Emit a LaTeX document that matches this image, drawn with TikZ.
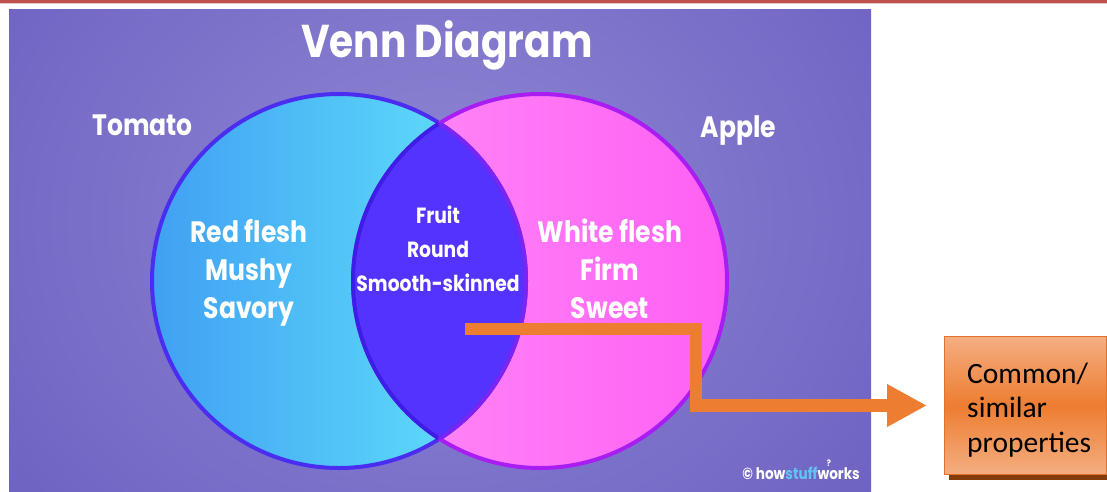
\documentclass[tikz,border=0pt]{standalone}
\usepackage{fontspec}
\setmainfont{Poppins}
\newfontfamily\vennfont{Poppins}[FakeStretch=0.85]
\newfontfamily\calloutfont{Carlito}
\usetikzlibrary{arrows.meta,shadows}

% palette
\definecolor{rulered}{HTML}{C0504D}
\definecolor{ruleshade}{HTML}{E6CACA}
\definecolor{glowin}{HTML}{8F87D4}
\definecolor{glowout}{HTML}{4D3DB0}
\definecolor{tomatoA}{HTML}{40A0F3}
\definecolor{tomatoB}{HTML}{64E8FB}
\definecolor{appleA}{HTML}{FF8CF8}
\definecolor{appleB}{HTML}{FF5FF3}
\definecolor{lensblue}{HTML}{5533FE}
\definecolor{tomatoedge}{HTML}{4A2DF0}
\definecolor{appleedge}{HTML}{A81EF2}
\definecolor{lensedge}{HTML}{3B1FE6}
\definecolor{lensedgeR}{HTML}{7A25F2}
\definecolor{flow}{HTML}{ED7D31}
\definecolor{boxlight}{HTML}{F4AE82}
\definecolor{boxedge}{HTML}{E2722A}
\definecolor{boxshadow}{HTML}{843C0C}
\definecolor{stuffblue}{HTML}{62C4F2}

\pgfdeclareradialshading{panelglow}{\pgfpoint{0bp}{0bp}}{color(0bp)=(glowin); color(36bp)=(glowout); color(50bp)=(glowout)}

\begin{document}
\begin{tikzpicture}[x=1pt,y=-1pt,
  venntitle/.style={text=white,inner sep=0,font=\vennfont\bfseries\fontsize{46}{52}\selectfont},
  setlabel/.style={text=white,inner sep=0,font=\vennfont\bfseries\fontsize{29.5}{34}\selectfont},
  setitems/.style={text=white,inner sep=0,align=center,font=\vennfont\bfseries\fontsize{29.5}{38}\selectfont},
  shareditems/.style={text=white,inner sep=0,align=center,font=\vennfont\bfseries\fontsize{22}{34}\selectfont},
  credit/.style={text=white,inner sep=0,font=\vennfont\bfseries\fontsize{16}{18}\selectfont},
  flowline/.style={draw=flow,line width=12.5pt,line join=miter,
    -{Triangle[length=40pt,width=40pt]},shorten >=17pt},
  callout/.style={draw=boxedge,line width=1pt,top color=boxlight,bottom color=boxlight,
    middle color=flow,inner sep=0,
    drop shadow={shadow xshift=4pt,shadow yshift=-5pt,fill=boxshadow,opacity=1}},
  callouttext/.style={text=black,inner sep=0,align=left,
    font=\calloutfont\fontsize{29.5}{34.5}\selectfont}]

\useasboundingbox (0,0) rectangle (1107,491);

% header rule
\fill[rulered] (0,0) rectangle (1107,3.3);
\fill[ruleshade] (0,3.3) rectangle (1107,4.3);

% panel with soft glow
\begin{scope}
  \clip (9,9) rectangle (871,491);
  \shade[shading=panelglow] (440,220) ellipse (760 and 640);
\end{scope}

% the two sets
\coordinate (cL) at (339,281);
\coordinate (cR) at (540,281);
\shade[left color=tomatoA,right color=tomatoB] (cL) circle (187);
\shade[left color=appleA,right color=appleB] (cR) circle (187);
\begin{scope}
  \clip (cL) circle (187);
  \fill[lensblue] (cR) circle (187);
\end{scope}
\draw[tomatoedge,line width=4pt] (cL) circle (187);
\draw[appleedge,line width=4pt] (cR) circle (187);
\begin{scope}
  \clip (cL) circle (187);
  \draw[lensedge,line width=4pt] (cR) circle (187);
\end{scope}
\begin{scope}
  \clip (cR) circle (187);
  \draw[lensedgeR,line width=4pt] (cL) circle (187);
\end{scope}

% texts (multi-line nodes are placed by the baseline of their last line)
\node[venntitle,anchor=base] (title) at (447,57) {Venn Diagram};
\node[setlabel,anchor=base] (tomato) at (142.5,135) {Tomato};
\node[setlabel,anchor=base] (apple) at (738.5,137) {Apple};
\node[setitems,anchor=base] (tomatoitems) at (249,318) {Red flesh\\Mushy\\Savory};
\node[setitems,anchor=base] (appleitems) at (610,318) {White flesh\\Firm\\Sweet};
\node[shareditems,anchor=base] (shared) at (438,291) {Fruit\\Round\\Smooth-skinned};
\node[credit,anchor=base east] (logo) at (860,479) {\textcopyright\ how\textcolor{stuffblue}{stuff}works};
\node[credit,font=\vennfont\bfseries\fontsize{9}{10}\selectfont,anchor=base] (logomark) at (829,466) {?};

% callout and its pointer
\node[callout,anchor=north west,minimum width=162pt,minimum height=138pt] (box) at (944,336) {};
\node[callouttext,anchor=base west] (boxtext) at (967,452) {Common/\\similar\\properties};
\coordinate (src) at (465,329);
\draw[flowline] (src) -- (696,329) |- (box.west);

\end{tikzpicture}
\end{document}
